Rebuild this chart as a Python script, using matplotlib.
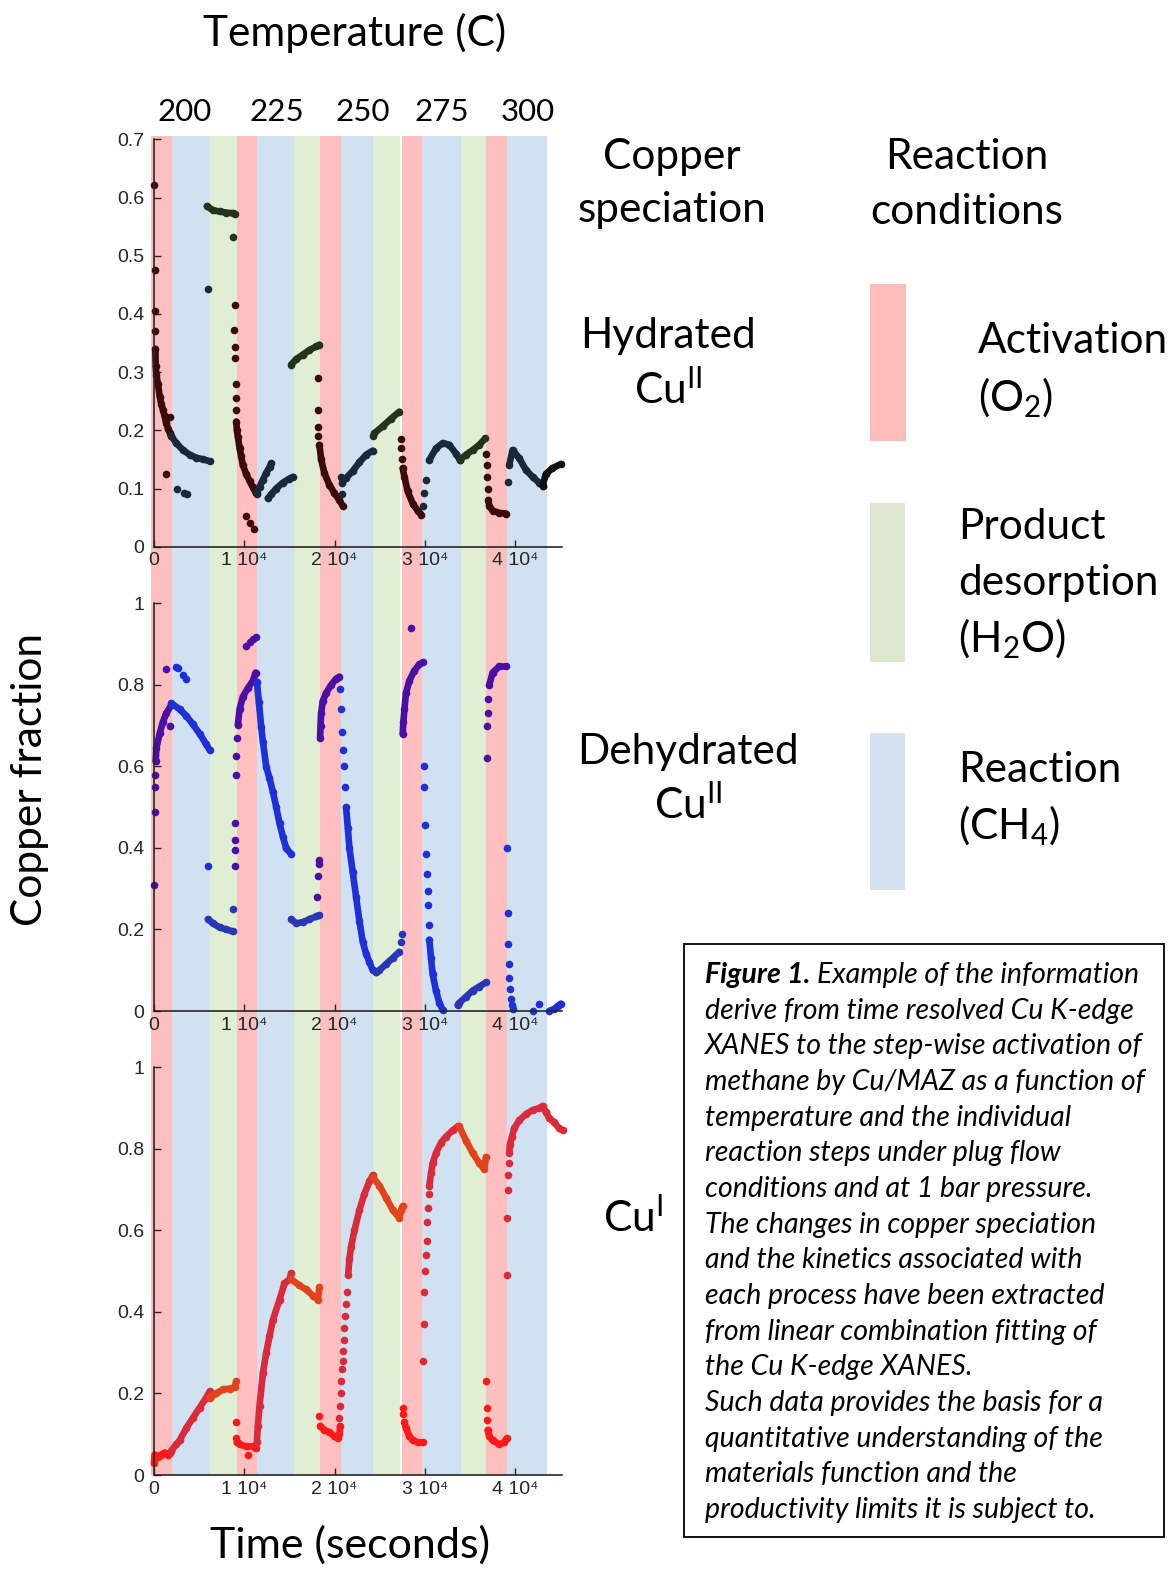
import matplotlib
matplotlib.use("Agg")
import matplotlib.pyplot as plt
from matplotlib.patches import Rectangle

plt.rcParams['font.family'] = ['Lato', 'DejaVu Sans']
plt.rcParams['mathtext.fontset'] = 'custom'
plt.rcParams['mathtext.rm'] = 'Lato'
plt.rcParams['mathtext.it'] = 'Lato:italic'
plt.rcParams['mathtext.bf'] = 'Lato:bold'

# ---- reaction condition bands (seconds) ----
band_start = [-365, 1960, 6200, 9160, 11400, 15470, 18380, 20680, 24290, 27500, 29680, 33960, 36770, 39090]
band_end = [1960, 6200, 9160, 11400, 15470, 18380, 20680, 24290, 27240, 29680, 33960, 36770, 39090, 43490]
band_kind = ['a', 'r', 'd', 'a', 'r', 'd', 'a', 'r', 'd', 'a', 'r', 'd', 'a', 'r']
temps = ['200', '225', '250', '275', '300']

xtick_vals = [0, 10000, 20000, 30000, 40000]
xtick_labels = ['0', '1 10\u2074', '2 10\u2074', '3 10\u2074', '4 10\u2074']

# ---- hydrated Cu(II) ----
hyd_runs_t = [
    [150, 190, 260, 440, 630, 810, 1000, 1180, 1360, 1550, 1750, 1920],
    [1920, 2470, 3210, 3950, 4680, 5420, 6160],
    [5860, 6530, 7260, 8000, 8740, 8920],
    [9110, 9180, 9290, 9480, 9660, 9840, 10210, 10580, 10950, 11250, 11390],
    [11390, 11690, 12060, 12430, 12800, 12980],
    [12610, 12980, 13530, 14270, 15000, 15370],
    [15190, 15740, 16480, 17220, 17960, 18320],
    [18320, 18510, 18880, 19430, 19980, 20540, 20900],
    [20830, 21270, 22010, 22750, 23490, 24220],
    [24300, 24410, 25330, 26250, 27170],
    [27540, 27730, 28100, 28650, 29200, 29610],
    [30490, 31230, 31970, 32700, 33440, 33880],
    [33880, 34550, 35290, 36020, 36690],
    [37020, 37130, 37500, 38230, 38970],
    [39340, 39710, 40450, 41180, 41920, 42660, 43030],
    [43030, 43400, 44130, 45050],
]
hyd_runs_y = [
    [0.34, 0.31, 0.295, 0.28, 0.258, 0.245, 0.235, 0.224, 0.212, 0.203, 0.196, 0.19],
    [0.19, 0.178, 0.166, 0.158, 0.153, 0.150, 0.147],
    [0.585, 0.578, 0.576, 0.574, 0.573, 0.572],
    [0.215, 0.2, 0.189, 0.169, 0.155, 0.14, 0.125, 0.113, 0.102, 0.093, 0.09],
    [0.092, 0.103, 0.115, 0.127, 0.137, 0.143],
    [0.083, 0.09, 0.1, 0.11, 0.117, 0.12],
    [0.313, 0.322, 0.33, 0.338, 0.344, 0.347],
    [0.175, 0.15, 0.126, 0.106, 0.092, 0.08, 0.07],
    [0.11, 0.118, 0.13, 0.145, 0.158, 0.165],
    [0.19, 0.195, 0.207, 0.22, 0.232],
    [0.135, 0.12, 0.095, 0.074, 0.062, 0.055],
    [0.149, 0.169, 0.178, 0.175, 0.160, 0.149],
    [0.149, 0.158, 0.166, 0.175, 0.186],
    [0.08, 0.07, 0.062, 0.058, 0.057],
    [0.14, 0.166, 0.152, 0.132, 0.12, 0.11, 0.105],
    [0.105, 0.125, 0.135, 0.142],
]
hyd_runs_k = ['a', 'r', 'd', 'a', 'r', 'r', 'd', 'a', 'r', 'd', 'a', 'r', 'd', 'a', 'r', 'x']
hyd_pts_t = [0, 60, 110, 80, 1360, 1810, 2540, 3280, 3650, 5970, 8740, 8920, 8890, 8920, 8960, 9030, 9030, 9100,
             10140, 10650, 11100, 18140, 18140, 18180, 18210, 20760, 20830, 27360, 27360, 27470,
             29830, 29940, 30120, 36760, 36830, 36870, 36940, 39160]
hyd_pts_y = [0.622, 0.475, 0.405, 0.37, 0.125, 0.222, 0.100, 0.093, 0.090, 0.442, 0.532, 0.415, 0.372, 0.343, 0.325, 0.28, 0.255, 0.235,
             0.052, 0.040, 0.030, 0.29, 0.235, 0.205, 0.19, 0.12, 0.09, 0.185, 0.17, 0.15,
             0.07, 0.092, 0.115, 0.16, 0.14, 0.12, 0.10, 0.112]
hyd_pts_k = ['a', 'a', 'a', 'a', 'a', 'a', 'r', 'r', 'r', 'r', 'd', 'a', 'a', 'a', 'a', 'a', 'a', 'a',
             'a', 'a', 'a', 'a', 'a', 'a', 'a', 'r', 'r', 'a', 'a', 'a',
             'r', 'r', 'r', 'a', 'a', 'a', 'a', 'r']

# ---- dehydrated Cu(II) ----
dehy_runs_t = [
    [184, 260, 630, 1000, 1360, 1920],
    [1920, 2840, 3580, 4310, 5050, 5790, 6160],
    [5970, 6530, 7260, 8000, 8740],
    [9290, 9480, 9840, 10400, 10950, 11250],
    [11390, 11610, 11870, 12060, 12430, 12790, 13160, 13530, 13900, 14270, 14640, 15190],
    [15190, 15740, 16480, 17220, 17960, 18320],
    [18400, 18440, 18510, 18690, 19060, 19620, 20170, 20540],
    [21270, 21460, 21640, 22010, 22380, 22750, 23120, 23490, 23860, 24220, 24590],
    [24590, 24960, 25700, 26440, 27170],
    [27540, 27620, 27730, 27910, 28280, 28830, 29390, 29750],
    [30490, 30680, 30860, 31230, 31600, 31970],
    [33630, 33810, 34550, 35290, 36020, 36760],
    [37130, 37500, 38230, 38970],
    [43770, 44320, 44690, 45050],
]
dehy_runs_y = [
    [0.612, 0.644, 0.681, 0.71, 0.73, 0.751],
    [0.755, 0.74, 0.724, 0.703, 0.68, 0.654, 0.64],
    [0.225, 0.215, 0.205, 0.2, 0.195],
    [0.702, 0.74, 0.771, 0.792, 0.81, 0.83],
    [0.808, 0.759, 0.697, 0.661, 0.599, 0.571, 0.538, 0.501, 0.46, 0.428, 0.399, 0.385],
    [0.225, 0.215, 0.218, 0.225, 0.232, 0.235],
    [0.67, 0.70, 0.73, 0.76, 0.78, 0.80, 0.815, 0.82],
    [0.50, 0.45, 0.40, 0.34, 0.28, 0.22, 0.17, 0.14, 0.12, 0.10, 0.095],
    [0.095, 0.1, 0.115, 0.13, 0.145],
    [0.68, 0.71, 0.74, 0.78, 0.81, 0.835, 0.85, 0.855],
    [0.175, 0.13, 0.09, 0.05, 0.02, 0.003],
    [0.015, 0.02, 0.035, 0.05, 0.06, 0.07],
    [0.80, 0.83, 0.845, 0.845],
    [0.0, 0.005, 0.012, 0.018],
]
dehy_runs_k = ['a', 'r', 'd', 'a', 'r', 'd', 'a', 'r', 'd', 'a', 'r', 'd', 'a', 'r']
dehy_pts_t = [0, 74, 111, 147, 1360, 1810, 2470, 2650, 3210, 3500, 5970,
              8740, 8920, 8920, 8920, 9000, 9110, 9110, 9180, 10210, 10580, 10950, 11250,
              18030, 18140, 18250, 18320, 20650, 20720, 20830, 20900, 21090, 21200,
              27360, 27470, 28460, 29940, 29940, 30050, 30120, 30200, 30310, 30340, 30420,
              36830, 36870, 36940, 36980, 39050, 39160, 39230, 39300, 39340, 39410, 39530, 39640, 39710,
              41920, 42660]
dehy_pts_y = [0.309, 0.489, 0.55, 0.579, 0.84, 0.70, 0.843, 0.842, 0.824, 0.814, 0.355,
              0.25, 0.355, 0.395, 0.42, 0.46, 0.58, 0.625, 0.67, 0.895, 0.906, 0.912, 0.917,
              0.28, 0.33, 0.36, 0.37, 0.79, 0.74, 0.685, 0.64, 0.60, 0.55,
              0.17, 0.19, 0.94, 0.60, 0.55, 0.455, 0.385, 0.335, 0.295, 0.26, 0.21,
              0.62, 0.70, 0.73, 0.765, 0.40, 0.24, 0.165, 0.115, 0.08, 0.055, 0.03, 0.015, 0.005,
              0.0, 0.018]
dehy_pts_k = ['a', 'a', 'a', 'a', 'a', 'a', 'r', 'r', 'r', 'r', 'r',
              'd', 'a', 'a', 'a', 'a', 'a', 'a', 'a', 'a', 'a', 'a', 'a',
              'a', 'a', 'a', 'a', 'r', 'r', 'r', 'r', 'r', 'r',
              'd', 'd', 'a', 'r', 'r', 'r', 'r', 'r', 'r', 'r', 'r',
              'a', 'a', 'a', 'a', 'r', 'r', 'r', 'r', 'r', 'r', 'r', 'r', 'r',
              'r', 'r']

# ---- Cu(I) ----
cu1_runs_t = [
    [0, 74, 440, 810, 1180, 1550, 1810, 1920],
    [1920, 2470, 2840, 3580, 4310, 5050, 5790, 6160],
    [6160, 6900, 7630, 8370, 8920, 9110],
    [9180, 9480, 10210, 10950, 11250],
    [11390, 11500, 11690, 12060, 12430, 12790, 13160, 13900, 14450, 15010, 15190],
    [15190, 16110, 16850, 17590, 18140, 18320],
    [18400, 18880, 19430, 19980, 20350, 20540, 20610],
    [21500, 21640, 21830, 22200, 22750, 23300, 23860, 24220],
    [24220, 24960, 25700, 26440, 27170, 27360, 27540],
    [27730, 27910, 28280, 28650, 29200, 29750],
    [30490, 30680, 30860, 31230, 31780, 32340, 33070, 33630],
    [33810, 34550, 35290, 36020, 36580, 36760],
    [36940, 37130, 37500, 38230, 38790, 39050],
    [39340, 39410, 39640, 39890, 40450, 41180, 41920, 42660, 43030, 43400],
    [43400, 43770, 44320, 44870, 45240],
]
cu1_runs_y = [
    [0.03, 0.05, 0.045, 0.05, 0.055, 0.05, 0.055, 0.058],
    [0.06, 0.075, 0.085, 0.115, 0.14, 0.165, 0.19, 0.205],
    [0.19, 0.2, 0.21, 0.212, 0.215, 0.23],
    [0.08, 0.075, 0.07, 0.07, 0.065],
    [0.08, 0.12, 0.17, 0.25, 0.30, 0.34, 0.38, 0.43, 0.47, 0.48, 0.495],
    [0.48, 0.465, 0.455, 0.44, 0.43, 0.46],
    [0.12, 0.11, 0.105, 0.095, 0.09, 0.10, 0.12],
    [0.49, 0.53, 0.56, 0.60, 0.65, 0.69, 0.72, 0.735],
    [0.73, 0.71, 0.68, 0.65, 0.63, 0.65, 0.66],
    [0.13, 0.115, 0.095, 0.085, 0.08, 0.08],
    [0.71, 0.74, 0.765, 0.79, 0.815, 0.83, 0.845, 0.855],
    [0.855, 0.82, 0.79, 0.765, 0.75, 0.78],
    [0.11, 0.095, 0.085, 0.075, 0.08, 0.09],
    [0.79, 0.81, 0.83, 0.85, 0.87, 0.885, 0.895, 0.9, 0.905, 0.89],
    [0.89, 0.875, 0.865, 0.85, 0.845],
]
cu1_runs_k = ['a', 'r', 'd', 'a', 'r', 'd', 'a', 'r', 'd', 'a', 'r', 'd', 'a', 'r', 'r']
cu1_pts_t = [9110, 9110, 9180, 10400, 18320, 20540, 20610, 20690, 20760, 20830, 20900, 20980, 21020, 21090, 21160, 21270, 21390,
             27540, 27620, 29830, 29900, 29940, 30050, 30120, 30200, 30270, 30340, 30420,
             36760, 36830, 36870, 39050, 39080, 39160, 39190, 39270]
cu1_pts_y = [0.13, 0.09, 0.08, 0.05, 0.145, 0.14, 0.17, 0.2, 0.23, 0.26, 0.28, 0.305, 0.33, 0.36, 0.39, 0.42, 0.45,
             0.165, 0.15, 0.28, 0.37, 0.45, 0.50, 0.54, 0.575, 0.62, 0.655, 0.69,
             0.23, 0.165, 0.135, 0.49, 0.63, 0.70, 0.735, 0.765]
cu1_pts_k = ['a', 'a', 'a', 'a', 'a', 'r', 'r', 'r', 'r', 'r', 'r', 'r', 'r', 'r', 'r', 'r', 'r',
             'a', 'a', 'r', 'r', 'r', 'r', 'r', 'r', 'r', 'r', 'r',
             'a', 'a', 'a', 'r', 'r', 'r', 'r', 'r']

band_col = {'a': '#ffbfbf', 'r': '#d2e1f1', 'd': '#e0eed3'}
hyd_col = {'a': '#3d0a0c', 'r': '#1a2939', 'd': '#24331b', 'x': '#101010'}
dehy_col = {'a': '#4a10a6', 'r': '#1f30d6', 'd': '#2b36b4'}
cu1_col = {'a': '#ff1a1a', 'r': '#d92b3c', 'd': '#e2431f'}

W, H = 1170, 1573
fig = plt.figure(figsize=(W / 100, H / 100), dpi=100)


def px_box(x0, y0, x1, y1):
    return [x0 / W, 1 - y1 / H, (x1 - x0) / W, (y1 - y0) / H]


# background bands shared by the three panels
bg = fig.add_axes(px_box(150, 136, 561.7, 1475))
bg.set_xlim(-443, 45150)
bg.set_ylim(0, 1)
bg.axis('off')
for s, e, k in zip(band_start, band_end, band_kind):
    bg.axvspan(s, e, color=band_col[k], lw=0)


def draw_panel(box, runs_t, runs_y, runs_k, pts_t, pts_y, pts_k, cols, ymax, yticks, ylabels):
    ax = fig.add_axes(box)
    ax.patch.set_alpha(0)
    for t, y, k in zip(runs_t, runs_y, runs_k):
        ax.plot(t, y, '-o', color=cols[k], lw=4.8, ms=5.5, mew=0, solid_capstyle='round', clip_on=False)
    for t, y, k in zip(pts_t, pts_y, pts_k):
        ax.plot(t, y, 'o', color=cols[k], ms=5.5, mew=0, clip_on=False)
    ax.set_xlim(0, 45150)
    ax.set_ylim(0, ymax)
    ax.set_xticks(xtick_vals)
    ax.set_xticklabels(xtick_labels)
    ax.set_yticks(yticks)
    ax.set_yticklabels(ylabels)
    for sp in ['top', 'right']:
        ax.spines[sp].set_visible(False)
    for sp in ['left', 'bottom']:
        ax.spines[sp].set_color('#262626')
        ax.spines[sp].set_linewidth(1.2)
    ax.tick_params(direction='in', length=5, width=1, colors='#262626', labelsize=14)
    ax.tick_params(axis='y', pad=7)
    ax.tick_params(axis='x', pad=4)
    for lab in ax.get_xticklabels() + ax.get_yticklabels():
        lab.set_family(['Liberation Sans', 'DejaVu Sans'])
    return ax


draw_panel(px_box(154, 139.3, 561.7, 546.7), hyd_runs_t, hyd_runs_y, hyd_runs_k,
           hyd_pts_t, hyd_pts_y, hyd_pts_k, hyd_col, 0.7,
           [0, 0.1, 0.2, 0.3, 0.4, 0.5, 0.6, 0.7], ['0', '0.1', '0.2', '0.3', '0.4', '0.5', '0.6', '0.7'])
draw_panel(px_box(154, 603.3, 561.7, 1011), dehy_runs_t, dehy_runs_y, dehy_runs_k,
           dehy_pts_t, dehy_pts_y, dehy_pts_k, dehy_col, 1.0,
           [0, 0.2, 0.4, 0.6, 0.8, 1.0], ['0', '0.2', '0.4', '0.6', '0.8', '1'])
draw_panel(px_box(154, 1067.3, 561.7, 1475), cu1_runs_t, cu1_runs_y, cu1_runs_k,
           cu1_pts_t, cu1_pts_y, cu1_pts_k, cu1_col, 1.0,
           [0, 0.2, 0.4, 0.6, 0.8, 1.0], ['0', '0.2', '0.4', '0.6', '0.8', '1'])

# overlay in pixel coordinates for all the annotation text
ov = fig.add_axes([0, 0, 1, 1])
ov.set_xlim(0, W)
ov.set_ylim(H, 0)
ov.axis('off')
ov.patch.set_alpha(0)

ov.text(355, 33, 'Temperature (C)', fontsize=30.5, ha='center', va='center')
for x, s in zip([185, 277, 363, 442, 528], temps):
    ov.text(x, 112, s, fontsize=22.5, ha='center', va='center')

ov.text(30, 780, 'Copper fraction', fontsize=30.5, rotation=90, ha='center', va='center')
ov.text(350, 1545, 'Time (seconds)', fontsize=31, ha='center', va='center')


def lines(x, ys, texts, ha='center', size=30.5):
    for y, s in zip(ys, texts):
        ov.text(x, y, s, fontsize=size, ha=ha, va='center')


lines(672, [157, 210], ['Copper', 'speciation'])
lines(967, [157, 212], ['Reaction', 'conditions'])
lines(668, [336, 390], ['Hydrated', r'Cu$^{\mathrm{II}}$'])
lines(688, [752, 805], ['Dehydrated', r'Cu$^{\mathrm{II}}$'])
lines(633, [1218], [r'Cu$^{\mathrm{I}}$'])
lines(978, [341, 398], ['Activation', r'(O$_2$)'], ha='left')
lines(958, [527, 583, 639], ['Product', 'desorption', r'(H$_2$O)'], ha='left')
lines(958, [770, 826], ['Reaction', r'(CH$_4$)'], ha='left')

ov.add_patch(Rectangle((870, 284), 36, 157, color='#ffbcbc', lw=0))
ov.add_patch(Rectangle((870, 503), 35, 159, color='#dce7cf', lw=0))
ov.add_patch(Rectangle((870, 733), 35, 157, color='#d3e1f0', lw=0))

# caption box
ov.add_patch(Rectangle((684, 944), 480, 593, fill=False, ec='black', lw=1.3))
caption = [
    'Example of the information',
    'derive from time resolved Cu K-edge',
    'XANES to the step-wise activation of',
    'methane by Cu/MAZ as a function of',
    'temperature and the individual',
    'reaction steps under plug flow',
    'conditions and at 1 bar pressure.',
    'The changes in copper speciation',
    'and the kinetics associated with',
    'each process have been extracted',
    'from linear combination fitting of',
    'the Cu K-edge XANES.',
    'Such data provides the basis for a',
    'quantitative understanding of the',
    'materials function and the',
    'productivity limits it is subject to.',
]
cap_size = 20.5
head = ov.text(705, 975, 'Figure 1.', fontsize=cap_size, fontstyle='italic', fontweight='bold', ha='left', va='center')
r = fig.canvas.get_renderer()
bb = head.get_window_extent(r)
x_after = bb.x1 + 0.3 * cap_size
for i, s in enumerate(caption):
    x = x_after if i == 0 else 705
    ov.text(x, 975 + i * 35.67, s, fontsize=cap_size, fontstyle='italic', ha='left', va='center')

fig.savefig('out.png', dpi=100)
